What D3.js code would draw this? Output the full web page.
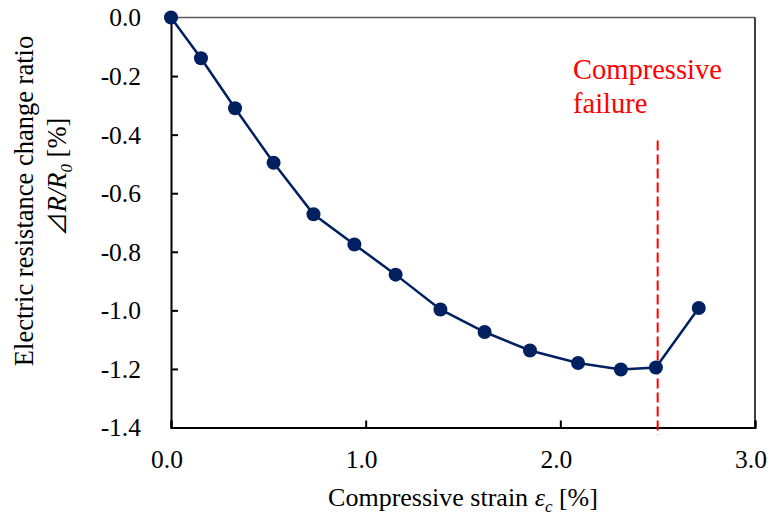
<!DOCTYPE html>
<html>
<head>
<meta charset="utf-8">
<script src="https://cdn.jsdelivr.net/npm/d3@7"></script>
<style>
  html, body { margin: 0; padding: 0; background: #fff; }
  svg { display: block; }
  svg text { font-family: "Liberation Serif", "Times New Roman", serif; }
</style>
</head>
<body>
<svg id="chart" width="772" height="520"></svg>
<script>
// Compressive strain (%) and electric resistance change ratio (%)
const strain = [0.00, 0.154, 0.329, 0.527, 0.732, 0.942, 1.154, 1.384, 1.611, 1.844, 2.091, 2.311, 2.491, 2.711];
const resistance = [0.000, -0.139, -0.310, -0.496, -0.672, -0.775, -0.878, -0.997, -1.074, -1.137, -1.180, -1.202, -1.195, -0.992];

const xTicks = [0, 1, 2, 3];
const yTicks = [0, -0.2, -0.4, -0.6, -0.8, -1.0, -1.2, -1.4];

// failure marker: strain position and vertical extent
const failureStrain = [2.5];
const failureSpan = [-0.42, -1.425];
const failureLabel = ["Compressive", "failure"];

const W = 772, H = 520;
const margin = { left: 171, top: 17.5, right: 17, bottom: 92.5 };
const SERIF = "Liberation Serif, Times New Roman, serif";
const svg = d3.select("#chart");

const x = d3.scaleLinear().domain([0, 3]).range([margin.left, W - margin.right]);
const y = d3.scaleLinear().domain([-1.4, 0]).range([H - margin.bottom, margin.top]);

// one decimal, plain hyphen for negatives
const fmt = d => d3.format(".1f")(d).replace("\u2212", "-");
const tickFont = 25.5;

// frame: top and right edges
svg.append("line")
  .attr("x1", x(0)).attr("x2", x(3)).attr("y1", y(0)).attr("y2", y(0))
  .attr("stroke", "#595959").attr("stroke-width", 1.5);
svg.append("line")
  .attr("x1", x(3)).attr("x2", x(3)).attr("y1", y(0)).attr("y2", y(-1.4))
  .attr("stroke", "#000").attr("stroke-width", 1.5);

// y axis with inward ticks
const yAxis = svg.append("g")
  .attr("transform", `translate(${x(0)},0)`)
  .call(d3.axisRight(y).tickValues(yTicks).tickSize(7).tickFormat(""));
yAxis.select(".domain").attr("stroke", "#000").attr("stroke-width", 2);
yAxis.selectAll(".tick line").attr("stroke", "#000").attr("stroke-width", 2);

svg.append("g").selectAll("text")
  .data(yTicks).join("text")
  .attr("x", 141)
  .attr("y", d => y(d))
  .attr("dy", "0.35em")
  .attr("text-anchor", "end")
  .attr("font-family", SERIF)
  .attr("font-size", tickFont)
  .attr("fill", "#000")
  .text(d => fmt(d));

// x axis with inward ticks
const xAxis = svg.append("g")
  .attr("transform", `translate(0,${y(-1.4)})`)
  .call(d3.axisTop(x).tickValues(xTicks).tickSize(7).tickFormat(""));
xAxis.select(".domain").attr("stroke", "#000").attr("stroke-width", 2);
xAxis.selectAll(".tick line").attr("stroke", "#000").attr("stroke-width", 2);

svg.append("g").selectAll("text")
  .data(xTicks).join("text")
  .attr("x", d => x(d) - 4)
  .attr("y", 468)
  .attr("text-anchor", "middle")
  .attr("font-family", SERIF)
  .attr("font-size", tickFont)
  .attr("fill", "#000")
  .text(d => fmt(d));

// failure marker
svg.append("line")
  .attr("x1", x(failureStrain[0])).attr("x2", x(failureStrain[0]))
  .attr("y1", y(failureSpan[0])).attr("y2", y(failureSpan[1]))
  .attr("stroke", "#ff0000").attr("stroke-width", 2)
  .attr("stroke-dasharray", "10,4");

svg.append("g").selectAll("text")
  .data(failureLabel).join("text")
  .attr("x", 573)
  .attr("y", (d, i) => 79 + i * 34)
  .attr("font-family", SERIF)
  .attr("font-size", 28.5)
  .attr("fill", "#ff0000")
  .text(d => d);

// data line and markers
const pts = strain.map((s, i) => [s, resistance[i]]);
svg.append("path")
  .datum(pts)
  .attr("fill", "none")
  .attr("stroke", "#002060")
  .attr("stroke-width", 2.5)
  .attr("d", d3.line().x(d => x(d[0])).y(d => y(d[1])));

svg.append("g").selectAll("circle")
  .data(pts).join("circle")
  .attr("cx", d => x(d[0]))
  .attr("cy", d => y(d[1]))
  .attr("r", 7)
  .attr("fill", "#002060");

// x axis title
const xt = svg.append("text")
  .attr("x", (x(0) + x(3)) / 2)
  .attr("y", 506)
  .attr("text-anchor", "middle")
  .attr("font-family", SERIF)
  .attr("font-size", 26)
  .attr("fill", "#000");
xt.append("tspan").text("Compressive strain ");
xt.append("tspan").attr("font-style", "italic").text("ε");
xt.append("tspan").attr("font-style", "italic").attr("font-size", 17).attr("dy", 6).text("c");
xt.append("tspan").attr("dy", -6).text(" [%]");

// y axis title (two lines)
svg.append("text")
  .attr("transform", "translate(33,201) rotate(-90)")
  .attr("text-anchor", "middle")
  .attr("font-family", SERIF)
  .attr("font-size", 26.5)
  .attr("fill", "#000")
  .text("Electric resistance change ratio");

const yt2 = svg.append("text")
  .attr("transform", "translate(66,177) rotate(-90)")
  .attr("text-anchor", "middle")
  .attr("font-family", SERIF)
  .attr("font-size", 26.5)
  .attr("fill", "#000");
yt2.append("tspan").attr("font-family", "Noto Sans CJK JP").attr("font-size", 24).text("⊿");
yt2.append("tspan").attr("font-style", "italic").text("R/R");
yt2.append("tspan").attr("font-style", "italic").attr("font-size", 17).attr("dy", 6).text("0");
yt2.append("tspan").attr("dy", -6).text(" [%]");
</script>
</body>
</html>
